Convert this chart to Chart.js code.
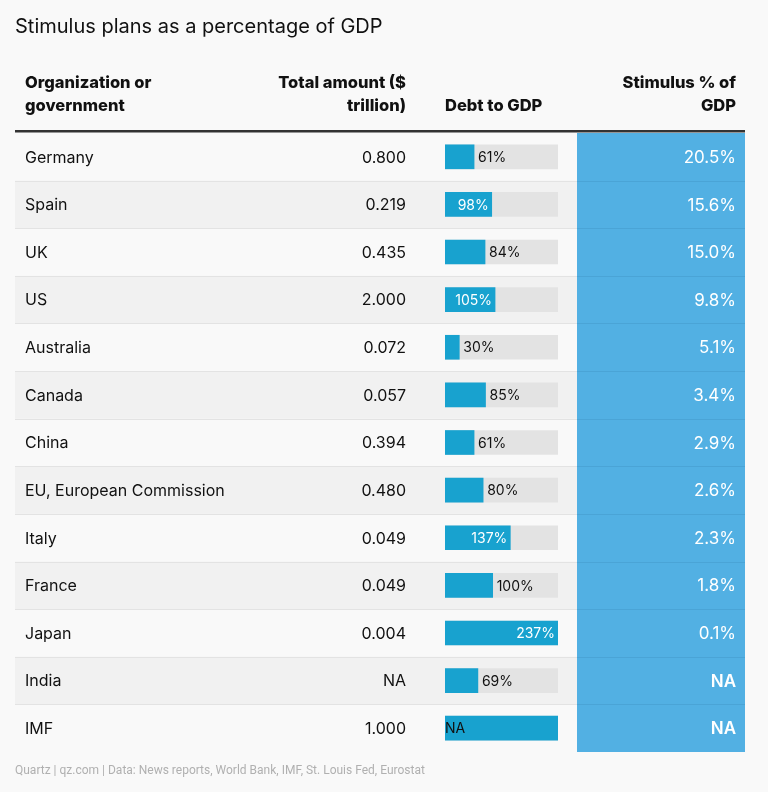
<!DOCTYPE html>
<html>
<head>
<meta charset="utf-8">
<script src="https://cdn.jsdelivr.net/npm/chart.js@4"></script>
<style>
  body { margin: 0; background: #f9f9f9; }
  canvas { display: block; }
</style>
</head>
<body>
<canvas id="chart" width="768" height="792"></canvas>
<script>
'use strict'

// table data
const names = ['Germany', 'Spain', 'UK', 'US', 'Australia', 'Canada', 'China', 'EU, European Commission', 'Italy', 'France', 'Japan', 'India', 'IMF']
const totalAmount = ['0.800', '0.219', '0.435', '2.000', '0.072', '0.057', '0.394', '0.480', '0.049', '0.049', '0.004', 'NA', '1.000']
const debtToGdp = [61, 98, 84, 105, 30, 85, 61, 80, 137, 100, 237, 69, null]
const stimulusPct = ['20.5%', '15.6%', '15.0%', '9.8%', '5.1%', '3.4%', '2.9%', '2.6%', '2.3%', '1.8%', '0.1%', 'NA', 'NA']
const debtMax = 237

const FONT = 'Inter, "Noto Sans", sans-serif'
const BLUE_COL = '#52b0e3'
const BAR = '#18a2cf'

const tablePlugin = {
  id: 'table',
  beforeDraw(chart) {
    const ctx = chart.ctx
    const y = chart.scales.y
    const half = (y.getPixelForValue(1) - y.getPixelForValue(0)) / 2
    ctx.save()
    ctx.fillStyle = '#f9f9f9'
    ctx.fillRect(0, 0, chart.width, chart.height)
    names.forEach((n, i) => {
      const cy = y.getPixelForValue(i)
      if (i % 2 === 1) {
        ctx.fillStyle = '#f1f1f1'
        ctx.fillRect(15, cy - half, 562, half * 2)
      }
    })
    // stimulus column
    ctx.fillStyle = BLUE_COL
    ctx.fillRect(577, y.getPixelForValue(0) - half, 168, half * 2 * names.length)
    // row separators
    names.forEach((n, i) => {
      if (i === names.length - 1) return
      const by = Math.round(y.getPixelForValue(i) + half) + 0.5
      ctx.strokeStyle = '#e3e3e3'
      ctx.lineWidth = 1
      ctx.beginPath(); ctx.moveTo(15, by); ctx.lineTo(577, by); ctx.stroke()
      ctx.strokeStyle = '#4aa4d6'
      ctx.beginPath(); ctx.moveTo(577, by); ctx.lineTo(745, by); ctx.stroke()
    })
    // title and headers
    ctx.fillStyle = '#111'
    ctx.textBaseline = 'middle'
    ctx.font = '20px ' + FONT
    ctx.textAlign = 'left'
    ctx.fillText('Stimulus plans as a percentage of GDP', 15, 27)
    ctx.font = '800 16.5px ' + FONT
    ctx.fillText('Organization or', 25, 83)
    ctx.fillText('government', 25, 106)
    ctx.fillText('Debt to GDP', 445, 106)
    ctx.textAlign = 'right'
    ctx.fillText('Total amount ($', 406, 83)
    ctx.fillText('trillion)', 406, 106)
    ctx.fillText('Stimulus % of', 736, 83)
    ctx.fillText('GDP', 736, 106)
    ctx.fillStyle = '#333'
    ctx.fillRect(15, 130, 730, 2.5)
    // footer
    ctx.font = '12px Roboto, sans-serif'
    ctx.textAlign = 'left'
    ctx.fillStyle = '#b0b0b0'
    ctx.fillText('Quartz | qz.com | Data: News reports, World Bank, IMF, St. Louis Fed, Eurostat', 15, 771)
    ctx.restore()
  },
  afterDatasetsDraw(chart) {
    const ctx = chart.ctx
    const y = chart.scales.y
    const x = chart.scales.x
    ctx.save()
    ctx.textBaseline = 'middle'
    names.forEach((n, i) => {
      const cy = y.getPixelForValue(i) + 1
      ctx.fillStyle = '#111'
      ctx.font = '16px ' + FONT
      ctx.textAlign = 'left'
      ctx.fillText(n, 25, cy)
      ctx.textAlign = 'right'
      ctx.fillText(totalAmount[i], 406, cy)
      ctx.fillStyle = '#fff'
      ctx.font = (stimulusPct[i] === 'NA' ? '600 ' : '') + '17px ' + FONT
      ctx.fillText(stimulusPct[i], 736, cy)
      // debt labels
      ctx.font = '14px ' + FONT
      const v = debtToGdp[i]
      if (v === null) {
        ctx.fillStyle = '#111'
        ctx.textAlign = 'left'
        ctx.fillText('NA', x.getPixelForValue(0), cy)
        return
      }
      const label = v + '%'
      const end = x.getPixelForValue(v)
      const w = ctx.measureText(label).width
      if (w + 12 <= end - x.getPixelForValue(0)) {
        ctx.fillStyle = '#fff'
        ctx.textAlign = 'right'
        ctx.fillText(label, end - 3, cy)
      } else {
        ctx.fillStyle = '#111'
        ctx.textAlign = 'left'
        ctx.fillText(label, end + 4, cy)
      }
    })
    ctx.restore()
  }
}

new Chart(document.getElementById('chart'), {
  type: 'bar',
  data: {
    labels: names,
    datasets: [
      {
        data: debtToGdp.map(v => v === null ? debtMax : v),
        backgroundColor: BAR,
        barThickness: 24,
        grouped: false,
        order: 1
      },
      {
        data: names.map(() => debtMax),
        backgroundColor: '#e3e3e3',
        barThickness: 24,
        grouped: false,
        order: 2
      }
    ]
  },
  options: {
    indexAxis: 'y',
    responsive: false,
    animation: false,
    layout: { padding: { left: 445, right: 210, top: 133, bottom: 40 } },
    plugins: { legend: { display: false }, tooltip: { enabled: false } },
    scales: {
      x: { display: false, min: 0, max: debtMax },
      y: { display: false, offset: true }
    }
  },
  plugins: [tablePlugin]
})
</script>
</body>
</html>
